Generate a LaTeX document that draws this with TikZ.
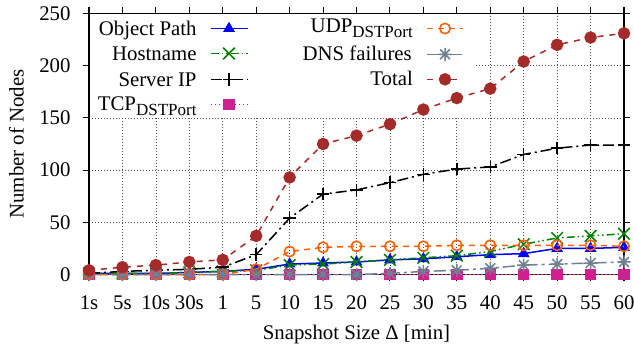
\documentclass[tikz,border=0pt]{standalone}
\usepackage{fontspec}
\setmainfont{Liberation Serif}
\usetikzlibrary{plotmarks}
\definecolor{cObj}{RGB}{0,0,250}
\definecolor{cHost}{RGB}{0,128,0}
\definecolor{cTCP}{RGB}{208,32,144}
\definecolor{cUDP}{RGB}{255,96,0}
\definecolor{cDNS}{RGB}{112,128,144}
\definecolor{cTot}{RGB}{165,42,42}
\pgfdeclareplotmark{gpstar}{%
  \pgfpathmoveto{\pgfqpoint{-\pgfplotmarksize}{0pt}}\pgfpathlineto{\pgfqpoint{\pgfplotmarksize}{0pt}}%
  \pgfpathmoveto{\pgfqpoint{0pt}{-\pgfplotmarksize}}\pgfpathlineto{\pgfqpoint{0pt}{\pgfplotmarksize}}%
  \pgfpathmoveto{\pgfqpoint{-.75\pgfplotmarksize}{-.75\pgfplotmarksize}}\pgfpathlineto{\pgfqpoint{.75\pgfplotmarksize}{.75\pgfplotmarksize}}%
  \pgfpathmoveto{\pgfqpoint{-.75\pgfplotmarksize}{.75\pgfplotmarksize}}\pgfpathlineto{\pgfqpoint{.75\pgfplotmarksize}{-.75\pgfplotmarksize}}%
  \pgfusepathqstroke}
\newcommand{\dstsub}{\raisebox{-5pt}{\fontsize{17}{17}\selectfont DSTPort}}
\tikzset{
  gridline/.style={black!70, line width=0.7pt, dash pattern=on 1pt off 2pt},
  plotframe/.style={black, line width=1.2pt},
  tickline/.style={black, line width=1.1pt},
  lab/.style={inner sep=0pt},
  serObj/.style={cObj, line width=1.5pt, mark=triangle*, mark size=5.3pt, mark options={solid}},
  serHost/.style={cHost, line width=1.5pt, dash pattern=on 8pt off 3pt on 1.5pt off 3pt on 1.5pt off 3pt, mark=x, mark size=8.2pt, mark options={solid}},
  serIP/.style={black, line width=1.5pt, dash pattern=on 11pt off 4pt on 2pt off 4pt, mark=+, mark size=6.3pt, mark options={solid}},
  serTCP/.style={cTCP, line width=1.5pt, dash pattern=on 1.5pt off 2.5pt, mark=square*, mark size=5pt, mark options={solid}},
  serUDP/.style={cUDP, line width=1.5pt, dash pattern=on 6pt off 5pt, mark=o, mark size=5.2pt, mark options={solid, line width=1.6pt}},
  serDNS/.style={cDNS, line width=1.5pt, dash pattern=on 12pt off 4pt on 3pt off 4pt, mark=gpstar, mark size=6.5pt, mark options={solid}},
  serTot/.style={cTot, line width=1.5pt, dash pattern=on 6pt off 6pt, mark=*, mark size=5.5pt, mark options={solid}},
}
\begin{document}
\begin{tikzpicture}[x=1pt, y=-1pt, font=\fontsize{20.8}{25}\selectfont]
\useasboundingbox (0,0) rectangle (634,348);
\begin{scope}[shift={(89,274.5)}, x=33.4375pt, y=1.044pt]
  % grid
  \foreach \i in {1,...,11} \draw[gridline] (\i,0) -- (\i,150);
  \foreach \i in {12,...,15} \draw[gridline] (\i,0) -- (\i,250);
  \foreach \v in {50,100,150} \draw[gridline] (0,\v) -- (16,\v);
  \draw[gridline] (11.57,200) -- (16,200);
  % ticks
  \foreach \v in {0,50,...,250} {
    \draw[tickline] (0,\v) -- ++(-6pt,0);
    \draw[tickline] (16,\v) -- ++(6pt,0);
    \path (0,\v) ++(-18.3pt,0) node[lab, anchor=east] (yl\v) {\v};
  }
  \foreach \i/\t in {0/1s,1/5s,2/10s,3/30s,4/1,5/5,6/10,7/15,8/20,9/25,10/30,11/35,12/40,13/45,14/50,15/55,16/60} {
    \draw[tickline] (\i,250) -- ++(0,6pt);
    \draw[tickline] (\i,0) -- ++(0,-6pt);
    \path (\i,0) ++(0,-35pt) node[lab, anchor=base] (xl\i) {\t};
  }
  % frame
  \draw[plotframe] (0,0) rectangle (16,250);
  % series
  \draw[serObj] plot coordinates {(0,1)(1,1)(2,1)(3,2)(4,3)(5,5)(6,10)(7,11)(8,12)(9,14)(10,15)(11,17)(12,19)(13,20)(14,25)(15,25)(16,26)};
  \draw[serHost] plot coordinates {(0,1)(1,1)(2,1)(3,2)(4,3)(5,4)(6,9)(7,10)(8,12)(9,14)(10,16)(11,18)(12,22)(13,29)(14,35)(15,37)(16,39)};
  \draw[serIP] plot coordinates {(0,1)(1,3)(2,4)(3,5)(4,7)(5,19)(6,54)(7,77)(8,81)(9,88)(10,96)(11,101)(12,103)(13,115)(14,121)(15,124)(16,124)};
  \draw[serTCP] plot coordinates {(0,0)(1,0)(2,0)(3,0)(4,0)(5,0)(6,0)(7,0)(8,0)(9,0)(10,0)(11,0)(12,0)(13,0)(14,0)(15,0)(16,0)};
  \draw[serUDP] plot coordinates {(0,0)(1,0)(2,0)(3,0)(4,0)(5,5)(6,22)(7,26)(8,27)(9,27)(10,27)(11,28)(12,28)(13,28)(14,28)(15,28)(16,27)};
  \draw[serDNS] plot coordinates {(0,0)(1,0)(2,0)(3,0)(4,0)(5,0)(6,0)(7,0)(8,0)(9,1)(10,3)(11,4)(12,6)(13,9)(14,10)(15,11)(16,12)};
  \draw[serTot] plot coordinates {(0,4)(1,7)(2,9)(3,12)(4,14)(5,37)(6,93)(7,125)(8,133)(9,144)(10,158)(11,169)(12,178)(13,204)(14,220)(15,227)(16,231)};
\end{scope}
% axis titles
\node[lab, anchor=base] (xlab) at (356.5,339) {Snapshot Size Δ [min]};
\node[lab, anchor=base, rotate=90] (ylab) at (23.5,144) {Number of Nodes};
% legend left column
\node[lab, anchor=base east] (lgObj) at (196.7,35) {Object Path};
\draw[serObj] (210.5,28.5) -- (248,28.5);
\draw[serObj] plot coordinates {(229,28.5)};
\node[lab, anchor=base east] (lgHost) at (196.7,60) {Hostname};
\draw[serHost] (210.5,53.5) -- (248,53.5);
\draw[serHost] plot coordinates {(229,53.5)};
\node[lab, anchor=base east] (lgIP) at (196.7,86) {Server IP};
\draw[serIP] (210.5,79.3) -- (248,79.3);
\draw[serIP] plot coordinates {(229,79.3)};
\node[lab, anchor=base east] (lgTCP) at (196.7,110.7) {TCP\dstsub};
\draw[serTCP] (210.5,104.3) -- (248,104.3);
\draw[serTCP] plot coordinates {(229,104.3)};
% legend right column
\node[lab, anchor=base east] (lgUDP) at (413,32.3) {UDP\dstsub};
\draw[serUDP] (427,28.5) -- (463,28.5);
\draw[serUDP] plot coordinates {(445,28.5)};
\node[lab, anchor=base east] (lgDNS) at (412,60) {DNS failures};
\draw[serDNS] (427,54.3) -- (463,54.3);
\draw[serDNS] plot coordinates {(445,54.3)};
\node[lab, anchor=base east] (lgTot) at (413,85.3) {Total};
\draw[serTot] (427,79.3) -- (463,79.3);
\draw[serTot] plot coordinates {(445,79.3)};
\end{tikzpicture}
\end{document}
